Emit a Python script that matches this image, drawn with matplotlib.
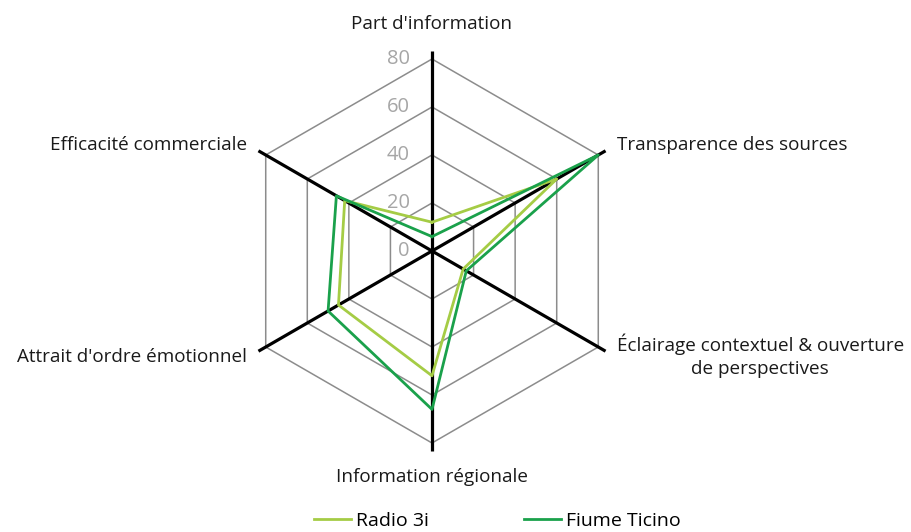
import numpy as np
import matplotlib
matplotlib.use('Agg')
import matplotlib.pyplot as plt

plt.rcParams['font.family'] = ['Open Sans', 'DejaVu Sans']

# Data
categories = [
    "Part d'information",
    "Transparence des sources",
    "Éclairage contextuel & ouverture\nde perspectives",
    "Information régionale",
    "Attrait d'ordre émotionnel",
    "Efficacité commerciale",
]
radio_3i = [12, 60, 15, 52, 45, 42]
fiume_ticino = [6, 80, 16.5, 66, 50, 46]
series_names = ["Radio 3i", "Fiume Ticino"]
series_colors = ["#a5cc45", "#1aa14b"]
ring_values = [0, 20, 40, 60, 80]

R_MAX = 84
W, H = 912, 532
cx, cy = 432, 251
rad_px = 192 * R_MAX / 80

fig = plt.figure(figsize=(W / 100, H / 100), dpi=100)
ax = fig.add_axes([(cx - rad_px) / W, (H - cy - rad_px) / H,
                   2 * rad_px / W, 2 * rad_px / H], projection='polar')
ax.set_theta_offset(np.pi / 2)
ax.set_theta_direction(-1)
ax.set_ylim(0, R_MAX)
ax.grid(False)
ax.spines['polar'].set_visible(False)
ax.set_xticks([])
ax.set_yticks([])
ax.patch.set_visible(False)

n = len(categories)
angles = np.arange(n) * 2 * np.pi / n
closed = np.append(angles, angles[0])

# hexagonal grid rings
for v in ring_values[1:]:
    ax.plot(closed, [v] * (n + 1), color='#8c8c8c', lw=1.1, zorder=1)

# axis spokes
for a in angles:
    ax.plot([a, a], [0, 83.5], color='black', lw=2.3, zorder=2, solid_capstyle='butt')

# ring value labels
for v in ring_values:
    ax.annotate(str(v), xy=(0, v), xytext=(-22, 0), textcoords='offset pixels',
                ha='right', va='center', fontsize=14.5, color='#a6a6a6', zorder=3)

# series
for vals, name, col in zip([radio_3i, fiume_ticino], series_names, series_colors):
    ax.plot(closed, vals + vals[:1], color=col, lw=2.0, label=name, zorder=4)

# category labels: (pixel offset, ha)
label_cfg = [
    ((0, 25), 'center'),
    ((10, 5), 'left'),
    ((10, -4), 'left'),
    ((0, -24), 'center'),
    ((-10, -5), 'right'),
    ((-10, 5), 'right'),
]
for a, lab, (off, ha) in zip(angles, categories, label_cfg):
    ax.annotate(lab, xy=(a, R_MAX), xytext=off, textcoords='offset pixels',
                ha=ha, va='center', fontsize=13.6, color='#1a1a1a',
                multialignment='center', linespacing=1.35)

fig.legend(loc='center', bbox_to_anchor=(497 / W, 1 - 521 / H), ncol=2, frameon=False,
           fontsize=14, handlelength=1.9, handletextpad=0.25, columnspacing=4.9)

fig.savefig('out.png', dpi=100, facecolor='white')
